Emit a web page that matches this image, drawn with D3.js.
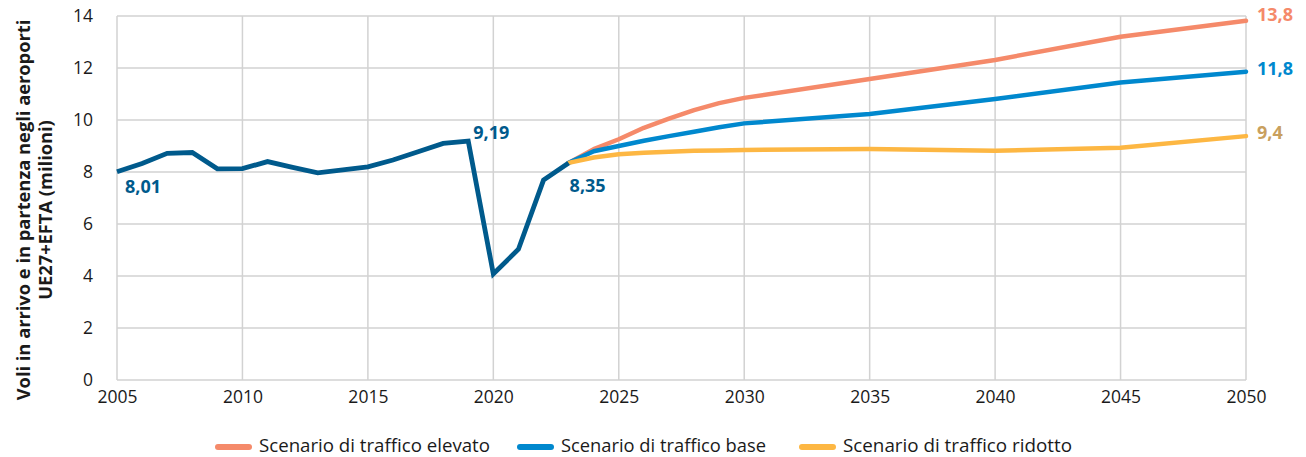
<!DOCTYPE html>
<html><head><meta charset="utf-8">
<script src="https://cdn.jsdelivr.net/npm/d3@7"></script>
<style>body{margin:0;background:#fff}svg{display:block;font-family:"Open Sans",sans-serif}</style>
</head><body><svg id="c" width="1306" height="457"></svg>
<script>
const histYears = [2005,2006,2007,2008,2009,2010,2011,2012,2013,2014,2015,2016,2017,2018,2019,2020,2021,2022,2023];
const histValues = [8.01,8.33,8.72,8.75,8.12,8.13,8.40,8.18,7.97,8.08,8.20,8.46,8.78,9.10,9.19,4.08,5.03,7.69,8.35];
const projYears = [2023,2024,2025,2026,2027,2028,2029,2030,2035,2040,2045,2050];
const highValues = [8.35,8.88,9.26,9.70,10.05,10.38,10.65,10.85,11.58,12.31,13.20,13.82];
const baseValues = [8.35,8.80,9.00,9.20,9.38,9.55,9.72,9.87,10.23,10.81,11.44,11.86];
const lowValues = [8.35,8.56,8.68,8.74,8.78,8.82,8.83,8.85,8.88,8.82,8.93,9.38];
const xTicks = [2005,2010,2015,2020,2025,2030,2035,2040,2045,2050];
const yTicks = [0,2,4,6,8,10,12,14];
const seriesNames = ["Scenario di traffico elevato","Scenario di traffico base","Scenario di traffico ridotto"];
const endLabels = ["13,8","11,8","9,4"];
const histLabels = [{year:2005,value:8.01,text:"8,01"},{year:2019,value:9.19,text:"9,19"},{year:2023,value:8.35,text:"8,35"}];
const colors = {high:"#F58A6A",base:"#0088CE",low:"#FDB743",hist:"#005A8C",lowLabel:"#C9A05E"};

const svg = d3.select("#c");
const x = d3.scaleLinear().domain([2005,2050]).range([117,1246]);
const y = d3.scaleLinear().domain([0,14]).range([380,16]);

const grid = svg.append("g");
grid.selectAll("line.h").data(yTicks).join("line")
  .attr("x1",x(2005)).attr("x2",x(2050)).attr("y1",d=>y(d)).attr("y2",d=>y(d))
  .attr("stroke","#d2d2d2").attr("stroke-width",1.5);
grid.selectAll("line.v").data(xTicks).join("line")
  .attr("x1",d=>x(d)).attr("x2",d=>x(d)).attr("y1",y(0)).attr("y2",y(14))
  .attr("stroke","#d2d2d2").attr("stroke-width",1.5);

const yAxis = svg.append("g").attr("transform",`translate(${x(2005)},0)`)
  .call(d3.axisLeft(y).tickValues(yTicks).tickSize(0).tickPadding(24).tickFormat(d3.format("d")));
yAxis.select(".domain").remove();
yAxis.selectAll("text").attr("font-size",17.5).attr("fill","#1a1a1a").attr("font-family","Open Sans");

const xAxis = svg.append("g").attr("transform",`translate(0,${y(0)})`)
  .call(d3.axisBottom(x).tickValues(xTicks).tickSize(0).tickPadding(11).tickFormat(d3.format("d")));
xAxis.select(".domain").remove();
xAxis.selectAll("text").attr("font-size",17.5).attr("fill","#1a1a1a").attr("font-family","Open Sans");

const line = d3.line().x(d=>x(d[0])).y(d=>y(d[1]));
const proj = [[highValues,colors.high],[baseValues,colors.base],[lowValues,colors.low]];
proj.forEach(([vals,col])=>{
  svg.append("path").datum(projYears.map((yr,i)=>[yr,vals[i]]))
    .attr("d",line).attr("fill","none").attr("stroke",col).attr("stroke-width",4.5)
    .attr("stroke-linejoin","round").attr("stroke-linecap","round");
});
svg.append("path").datum(histYears.map((yr,i)=>[yr,histValues[i]]))
  .attr("d",line).attr("fill","none").attr("stroke",colors.hist).attr("stroke-width",4.8)
  .attr("stroke-linejoin","miter");

// historical labels
const hl = svg.append("g").attr("font-weight","bold").attr("font-size",18).attr("fill",colors.hist);
hl.append("text").attr("x",x(histLabels[0].year)+8).attr("y",y(histLabels[0].value)+21).text(histLabels[0].text);
hl.append("text").attr("x",x(histLabels[1].year)+5).attr("y",y(histLabels[1].value)-2).text(histLabels[1].text);
hl.append("text").attr("x",x(histLabels[2].year)+1).attr("y",y(histLabels[2].value)+29).text(histLabels[2].text);

// end labels
const endVals = [highValues[highValues.length-1],baseValues[baseValues.length-1],lowValues[lowValues.length-1]];
const endCols = [colors.high,colors.base,colors.lowLabel];
const endDy = [0,3,3];
endVals.forEach((v,i)=>{
  svg.append("text").attr("x",x(2050)+11).attr("y",y(v)+endDy[i]).attr("font-weight","bold")
    .attr("font-size",18).attr("fill",endCols[i]).text(endLabels[i]);
});

// y axis title
const yt = svg.append("text").attr("transform","translate(0,210) rotate(-90)")
  .attr("text-anchor","middle").attr("font-weight","bold").attr("font-size",18.3).attr("fill","#1a1a1a");
yt.append("tspan").attr("x",0).attr("y",30).text("Voli in arrivo e in partenza negli aeroporti");
yt.append("tspan").attr("x",0).attr("y",52).text("UE27+EFTA (milioni)");

// legend
const legX = [215,517,799];
const legW = [231,205,229];
const legCols = [colors.high,colors.base,colors.low];
seriesNames.forEach((n,i)=>{
  const g = svg.append("g").attr("transform",`translate(${legX[i]},447)`);
  g.append("line").attr("x1",3).attr("x2",34).attr("y1",0).attr("y2",0)
    .attr("stroke",legCols[i]).attr("stroke-width",6).attr("stroke-linecap","round");
  g.append("text").attr("x",44).attr("y",5).attr("font-size",17.5).attr("fill","#1a1a1a")
    .attr("textLength", legW[i]).attr("lengthAdjust","spacingAndGlyphs").text(n);
});
</script></body></html>
